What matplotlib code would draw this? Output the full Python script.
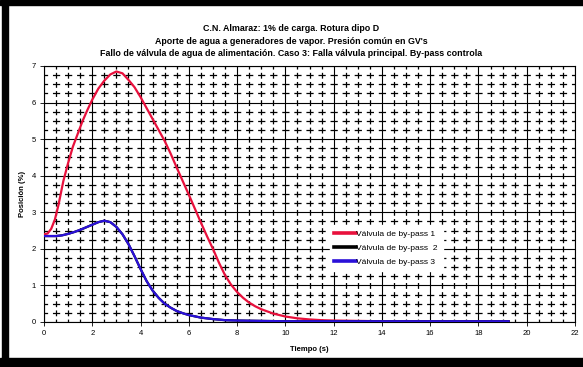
import matplotlib.pyplot as plt
import matplotlib.patches as mpatches
import numpy as np

# Datos
t_bp1 = [0, 0.15, 0.3, 0.45, 0.6, 0.8, 1.0, 1.2, 1.4, 1.6, 1.8, 2.0, 2.25, 2.5, 2.75, 3.0,
         3.25, 3.5, 3.75, 4.0, 4.25, 4.5, 4.75, 5.0, 5.25, 5.5, 5.75, 6.0, 6.25, 6.5, 6.75,
         7.0, 7.25, 7.5, 7.75, 8.0, 8.25, 8.5, 8.75, 9.0, 9.5, 10.0, 10.5, 11.0, 11.5, 12.0,
         13.0, 14.0, 19.25]
v_bp1 = [2.4, 2.42, 2.55, 2.8, 3.2, 3.85, 4.35, 4.8, 5.15, 5.5, 5.8, 6.08, 6.38, 6.6, 6.77, 6.85,
         6.8, 6.62, 6.42, 6.15, 5.85, 5.55, 5.25, 4.95, 4.6, 4.22, 3.85, 3.48, 3.1, 2.72, 2.35,
         2.0, 1.62, 1.28, 1.02, 0.82, 0.66, 0.53, 0.43, 0.35, 0.23, 0.15, 0.1, 0.07, 0.05, 0.04,
         0.03, 0.02, 0.02]

t_bp3 = [0, 0.5, 0.75, 1.0, 1.25, 1.5, 1.75, 2.0, 2.25, 2.5, 2.75, 3.0, 3.25, 3.5, 3.75, 4.0,
         4.25, 4.5, 4.75, 5.0, 5.25, 5.5, 5.75, 6.0, 6.5, 7.0, 7.5, 8.0, 9.0, 10.0, 19.25]
v_bp3 = [2.35, 2.35, 2.37, 2.41, 2.46, 2.52, 2.59, 2.66, 2.73, 2.77, 2.73, 2.6, 2.4, 2.13, 1.8, 1.45,
         1.12, 0.86, 0.66, 0.5, 0.39, 0.3, 0.24, 0.19, 0.12, 0.08, 0.05, 0.04, 0.03, 0.02, 0.02]

# la válvula 2 queda oculta bajo la 3
t_bp2 = t_bp3
v_bp2 = v_bp3

titulo = ("C.N. Almaraz: 1% de carga. Rotura dipo D\n"
          "Aporte de agua a generadores de vapor. Presión común en GV's\n"
          "Fallo de válvula de agua de alimentación. Caso 3: Falla válvula principal. By-pass controla")

plt.rcParams['font.family'] = ['Liberation Sans', 'DejaVu Sans']
plt.rcParams['lines.scale_dashes'] = False

W, H = 583, 367
fig = plt.figure(figsize=(W / 100, H / 100), dpi=100)
fig.patch.set_facecolor('white')

# marco negro
fig.patches.append(mpatches.Rectangle((0, 1 - 5 / H), 1, 5 / H, transform=fig.transFigure,
                                      color='black', zorder=0))
fig.patches.append(mpatches.Rectangle((2 / W, 0), 6 / W, 1, transform=fig.transFigure,
                                      color='black', zorder=0))
fig.patches.append(mpatches.Rectangle((0, 0), 1, 9 / H, transform=fig.transFigure,
                                      color='black', zorder=0))

ax = fig.add_axes([44 / W, 1 - 322 / H, (575 - 44) / W, (322 - 66) / H])

# rejilla secundaria discontinua (trazos centrados en los cruces)
for x in np.arange(0.5, 22, 0.5):
    if x % 2 != 0:
        ax.plot([x, x], [0, 7], color='black', lw=0.9, ls=(2.1, (4.2, 2.38)), zorder=1)
for y in np.arange(0.25, 7, 0.25):
    if y % 1 != 0:
        ax.plot([0, 22], [y, y], color='black', lw=0.9, ls=(2.6, (5.2, 3.49)), zorder=1)

ax.set_xlim(0, 22)
ax.set_ylim(0, 7)
ax.set_xticks(np.arange(0, 23, 2))
ax.set_yticks(np.arange(0, 8, 1))
ax.grid(True, which='major', color='black', lw=0.8, zorder=1)
ax.tick_params(labelsize=5.5, length=3, width=0.6, pad=3)

ax.plot(t_bp1, v_bp1, color='#e8103c', lw=1.6, label='Válvula de by-pass 1', zorder=3)
ax.plot(t_bp2, v_bp2, color='black', lw=1.6, label='Válvula de by-pass  2', zorder=3)
ax.plot(t_bp3, v_bp3, color='#2a10d8', lw=1.6, label='Válvula de by-pass 3', zorder=4)

ax.set_xlabel('Tiempo (s)', fontsize=5.5, fontweight='bold', labelpad=6)
ax.set_ylabel('Posición (%)', fontsize=5.5, fontweight='bold', labelpad=4)
fig.text(0.5, 1 - 41 / H, titulo, ha='center', va='center', fontsize=6.4, fontweight='bold',
         linespacing=1.45)

leg = ax.legend(loc='upper left', bbox_to_anchor=(0.53, 0.395), fontsize=6.1, frameon=True,
                fancybox=False, edgecolor='white', framealpha=1, handlelength=2.6,
                handletextpad=0.0, borderpad=0.55, labelspacing=0.75)
for ln in leg.get_lines():
    ln.set_linewidth(2.6)

fig.savefig('out.png', dpi=100, facecolor='white')
